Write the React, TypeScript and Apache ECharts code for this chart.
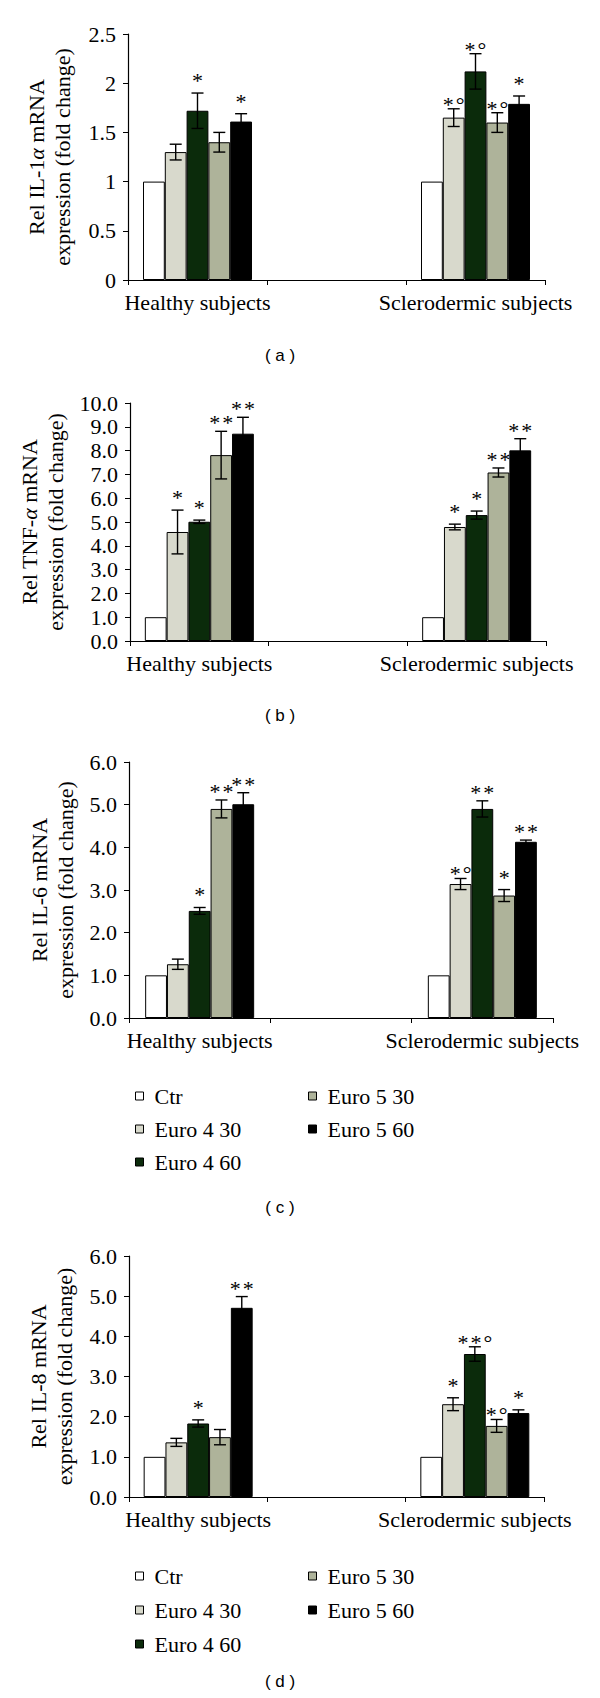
import React, { useEffect, useRef } from "react";
import * as echarts from "echarts";

const categories = ["Healthy subjects", "", "Sclerodermic subjects"];
const seriesNames = ["Ctr", "Euro 4 30", "Euro 4 60", "Euro 5 30", "Euro 5 60"];
const seriesColors = ["#ffffff", "#d8d9cc", "#0b2b0b", "#aeb39a", "#000000"];

// Panel (a) IL-1α
const aHealthy = [1, 1.3, 1.72, 1.4, 1.61];
const aHealthyErr = [0, 0.08, 0.18, 0.1, 0.08];
const aHealthyAnn = ["", "", "*", "", "*"];
const aSclero = [1, 1.65, 2.12, 1.6, 1.79];
const aScleroErr = [0, 0.09, 0.18, 0.1, 0.08];
const aScleroAnn = ["", "*°", "*°", "*°", "*"];

// Panel (b) TNF-α
const bHealthy = [1, 4.58, 5.01, 7.81, 8.71];
const bHealthyErr = [0, 0.92, 0.07, 1.0, 0.69];
const bHealthyAnn = ["", "*", "*", "**", "**"];
const bSclero = [1, 4.79, 5.29, 7.08, 8.01];
const bScleroErr = [0, 0.12, 0.17, 0.19, 0.49];
const bScleroAnn = ["", "*", "*", "**", "**"];

// Panel (c) IL-6
const cHealthy = [1, 1.26, 2.51, 4.9, 5.01];
const cHealthyErr = [0, 0.12, 0.08, 0.21, 0.27];
const cHealthyAnn = ["", "", "*", "**", "**"];
const cSclero = [1, 3.14, 4.9, 2.87, 4.13];
const cScleroErr = [0, 0.13, 0.19, 0.14, 0.04];
const cScleroAnn = ["", "*°", "**", "*", "**"];

// Panel (d) IL-8
const dHealthy = [1, 1.36, 1.83, 1.49, 4.71];
const dHealthyErr = [0, 0.1, 0.09, 0.19, 0.28];
const dHealthyAnn = ["", "", "*", "", "**"];
const dSclero = [1, 2.31, 3.56, 1.77, 2.09];
const dScleroErr = [0, 0.16, 0.18, 0.16, 0.08];
const dScleroAnn = ["", "*", "**°", "*°", "*"];

const yNamesTop = ["Rel IL-1", "Rel TNF-", "Rel IL-6 mRNA", "Rel IL-8 mRNA"];
const yMax = [2.5, 10, 6, 6];
const yInterval = [0.5, 1, 1, 1];
const panelLetters = ["( a )", "( b )", "( c )", "( d )"];

const SERIF = "Liberation Serif, DejaVu Serif, serif";
const SANS = "Liberation Sans, Arial, sans-serif";
const FS = 22;

const panelData = [
  { h: aHealthy, he: aHealthyErr, ha: aHealthyAnn, s: aSclero, se: aScleroErr, sa: aScleroAnn },
  { h: bHealthy, he: bHealthyErr, ha: bHealthyAnn, s: bSclero, se: bScleroErr, sa: bScleroAnn },
  { h: cHealthy, he: cHealthyErr, ha: cHealthyAnn, s: cSclero, se: cScleroErr, sa: cScleroAnn },
  { h: dHealthy, he: dHealthyErr, ha: dHealthyAnn, s: dSclero, se: dScleroErr, sa: dScleroAnn },
];

// layout (pixels)
const grids = [
  { left: 128, right: 55, top: 34, height: 246, nameGap: 53 },
  { left: 130, right: 54, top: 403, height: 238, nameGap: 54 },
  { left: 129, right: 47, top: 762, height: 256, nameGap: 50 },
  { left: 129, right: 56, top: 1256, height: 241, nameGap: 52 },
];
const letterY = [355, 715, 1207, 1681];
const BAR_W = 21.8;

function annRich(ann: string) {
  const chars = Array.from(ann);
  return chars.map((c, i) => (i === 0 ? `{s|${c}}` : `{p|${c}}`)).join("");
}

function annOffset(ann: string) {
  if (ann.includes("°")) return 7;
  if (ann.includes("**")) return 11;
  return 15;
}

export default function App() {
  const ref = useRef<HTMLDivElement>(null);
  useEffect(() => {
    document.body.style.margin = "0";
    if (!ref.current) return;
    const chart = echarts.init(ref.current, null, { renderer: "svg" });

    const gridOpt: any[] = [];
    const xAxes: any[] = [];
    const yAxes: any[] = [];
    const series: any[] = [];

    grids.forEach((g, p) => {
      gridOpt.push({ left: g.left, right: g.right, top: g.top, height: g.height, containLabel: false });
      xAxes.push({
        type: "category",
        gridIndex: p,
        data: categories,
        boundaryGap: true,
        axisLine: { lineStyle: { color: "#000", width: 1.2 } },
        axisTick: { show: true, length: 5, lineStyle: { color: "#000" } },
        axisLabel: { color: "#000", fontFamily: SERIF, fontSize: FS, margin: 11, interval: 0 },
        splitLine: { show: false },
      });
      const isA = p === 0;
      let nameStr: string;
      if (p === 0 || p === 1) {
        nameStr = `{t|${yNamesTop[p]}}{i|α}{t| mRNA}\n{t|expression (fold change)}`;
      } else {
        nameStr = `{t|${yNamesTop[p]}}\n{t|expression (fold change)}`;
      }
      yAxes.push({
        type: "value",
        gridIndex: p,
        min: 0,
        max: yMax[p],
        interval: yInterval[p],
        name: nameStr,
        nameLocation: "middle",
        nameRotate: 90,
        nameGap: g.nameGap,
        nameTextStyle: {
          color: "#000",
          fontFamily: SERIF,
          fontSize: FS,
          lineHeight: 26,
          rich: {
            t: { fontFamily: SERIF, fontSize: FS, lineHeight: 26, color: "#000" },
            i: { fontFamily: SERIF, fontSize: FS, lineHeight: 26, fontStyle: "italic", color: "#000" },
          },
        },
        axisLine: { show: true, lineStyle: { color: "#000", width: 1.2 } },
        axisTick: { show: true, length: 5, lineStyle: { color: "#000" } },
        axisLabel: {
          color: "#000",
          fontFamily: SERIF,
          fontSize: FS,
          margin: 12,
          formatter: (v: number) => (isA ? String(v) : v.toFixed(1)),
        },
        splitLine: { show: false },
      });

      const d = panelData[p];
      seriesNames.forEach((name, k) => {
        series.push({
          type: "bar",
          name,
          xAxisIndex: p,
          yAxisIndex: p,
          data: [d.h[k], "-", d.s[k]],
          barWidth: BAR_W,
          barGap: "0%",
          itemStyle: { color: seriesColors[k], borderColor: "#000", borderWidth: 1 },
          silent: true,
        });
      });

      const errData: any[] = [];
      seriesNames.forEach((_, k) => {
        errData.push([0, d.h[k], d.he[k], k, d.ha[k]]);
        errData.push([2, d.s[k], d.se[k], k, d.sa[k]]);
      });
      series.push({
        type: "custom",
        name: "err" + p,
        xAxisIndex: p,
        yAxisIndex: p,
        clip: false,
        silent: true,
        encode: { x: 0, y: 1 },
        data: errData,
        z: 10,
        renderItem: (params: any, api: any) => {
          const cat = api.value(0);
          const val = api.value(1);
          const err = api.value(2);
          const k = api.value(3);
          const ann = errData[params.dataIndex][4] as string;
          const center = api.coord([cat, val]);
          const x = center[0] + (k - 2) * BAR_W;
          const children: any[] = [];
          let topY = center[1];
          if (err > 0) {
            const hi = api.coord([cat, val + err])[1];
            const lo = api.coord([cat, val - err])[1];
            topY = hi;
            const st = { stroke: "#000", lineWidth: 1.4 };
            children.push({ type: "line", shape: { x1: x, y1: hi, x2: x, y2: lo }, style: st });
            children.push({ type: "line", shape: { x1: x - 6, y1: hi, x2: x + 6, y2: hi }, style: st });
            children.push({ type: "line", shape: { x1: x - 6, y1: lo, x2: x + 6, y2: lo }, style: st });
          }
          if (ann) {
            const off = annOffset(ann);
            children.push({
              type: "text",
              x: x,
              y: topY - off + 2.5,
              style: {
                text: annRich(ann),
                align: "center",
                verticalAlign: "middle",
                fill: "#000",
                fontFamily: SERIF,
                fontSize: FS,
                rich: {
                  s: { fontFamily: SERIF, fontSize: FS, fill: "#000" },
                  p: { fontFamily: SERIF, fontSize: FS, fill: "#000", padding: [0, 0, 0, 2] },
                },
              },
            });
          }
          return { type: "group", children };
        },
      });
    });

    const mkLegend = (data: string[], left: number, top: number, gap: number) => ({
      orient: "vertical",
      icon: "rect",
      itemWidth: 8,
      itemHeight: 8,
      itemGap: gap,
      left,
      top,
      data,
      selectedMode: false,
      itemStyle: { borderColor: "#000", borderWidth: 1 },
      textStyle: { color: "#000", fontFamily: SERIF, fontSize: FS, lineHeight: 24, padding: [0, 0, 0, 6] },
    });
    const legends = [
      mkLegend(seriesNames.slice(0, 3), 130, 1079, 9),
      mkLegend(seriesNames.slice(3), 303, 1079, 9),
      mkLegend(seriesNames.slice(0, 3), 130, 1559, 10),
      mkLegend(seriesNames.slice(3), 303, 1559, 10),
    ];

    const graphics = panelLetters.map((t, i) => ({
      type: "text",
      x: 280,
      y: letterY[i],
      style: {
        text: t,
        fill: "#000",
        font: `17px ${SANS}`,
        align: "center",
        verticalAlign: "middle",
      },
    }));

    chart.setOption({
      animation: false,
      backgroundColor: "#fff",
      textStyle: { fontFamily: SERIF, color: "#000" },
      grid: gridOpt,
      xAxis: xAxes,
      yAxis: yAxes,
      legend: legends,
      series,
      graphic: graphics,
    });
    return () => chart.dispose();
  }, []);
  return (
    <div
      ref={ref}
      style={{ position: "absolute", left: 0, top: 0, width: 600, height: 1698, background: "#fff" }}
    />
  );
}
